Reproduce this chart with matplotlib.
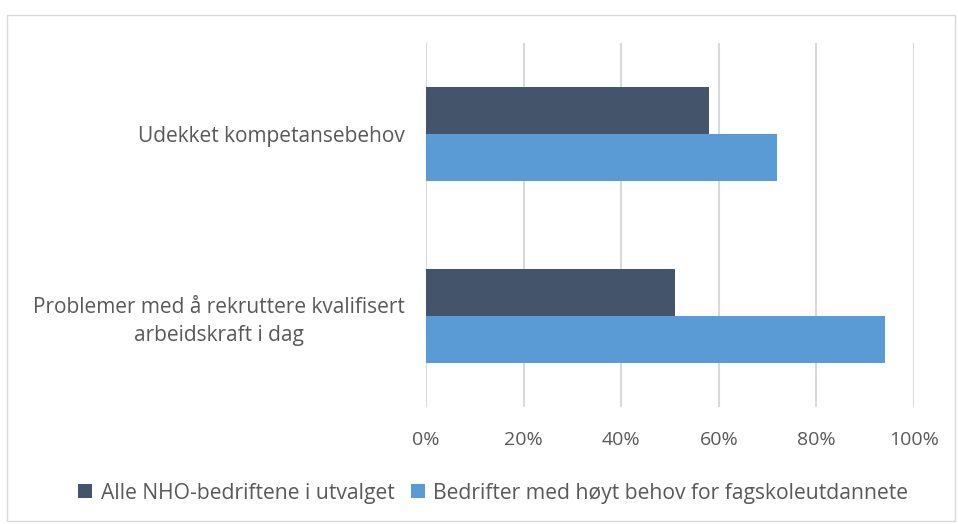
import numpy as np
import matplotlib
matplotlib.use("Agg")
import matplotlib.pyplot as plt
from matplotlib.patches import Rectangle

categories = ["Udekket kompetansebehov", "Problemer med å rekruttere kvalifisert\narbeidskraft i dag"]
series_names = ["Alle NHO-bedriftene i utvalget", "Bedrifter med høyt behov for fagskoleutdannete"]
alle = [58, 51]
hoyt = [72, 94]
colors = ["#44546A", "#5B9BD5"]
ticks = [0, 20, 40, 60, 80, 100]

plt.rcParams["font.family"] = ["Open Sans", "DejaVu Sans"]
txt = "#595959"

fig = plt.figure(figsize=(9.58, 5.24), dpi=100)
ax = fig.add_axes([0.4447, 0.2233, 0.5094, 0.6947])

y = np.arange(len(categories))
h = 0.26
ax.barh(y - h / 2, alle, height=h, color=colors[0], label=series_names[0], zorder=3)
ax.barh(y + h / 2, hoyt, height=h, color=colors[1], label=series_names[1], zorder=3)

ax.set_ylim(len(categories) - 0.5, -0.5)
ax.set_xlim(0, 100)
ax.set_xticks(ticks)
ax.set_xticklabels([f"{t}%" for t in ticks])
ax.set_yticks(y)
ax.set_yticklabels(categories, ha="right", multialignment="center", linespacing=1.4)
ax.tick_params(axis="y", length=0, pad=15, labelsize=15, labelcolor=txt)
ax.tick_params(axis="x", length=0, pad=17, labelsize=14, labelcolor=txt)
ax.grid(axis="x", color="#D9D9D9", linewidth=1.5, zorder=0)
for s in ax.spines.values():
    s.set_visible(False)

leg = fig.legend(loc="center", bbox_to_anchor=(0.515, 0.059), ncol=2, frameon=False,
                 fontsize=15.2, handlelength=0.65, handleheight=0.65, handletextpad=0.4,
                 columnspacing=0.8)
for t in leg.get_texts():
    t.set_color(txt)

fig.patches.append(Rectangle((0.007, 0.006), 0.99, 0.966, transform=fig.transFigure,
                             fill=False, edgecolor="#D9D9D9", linewidth=1))

fig.savefig("out.png", dpi=100)
